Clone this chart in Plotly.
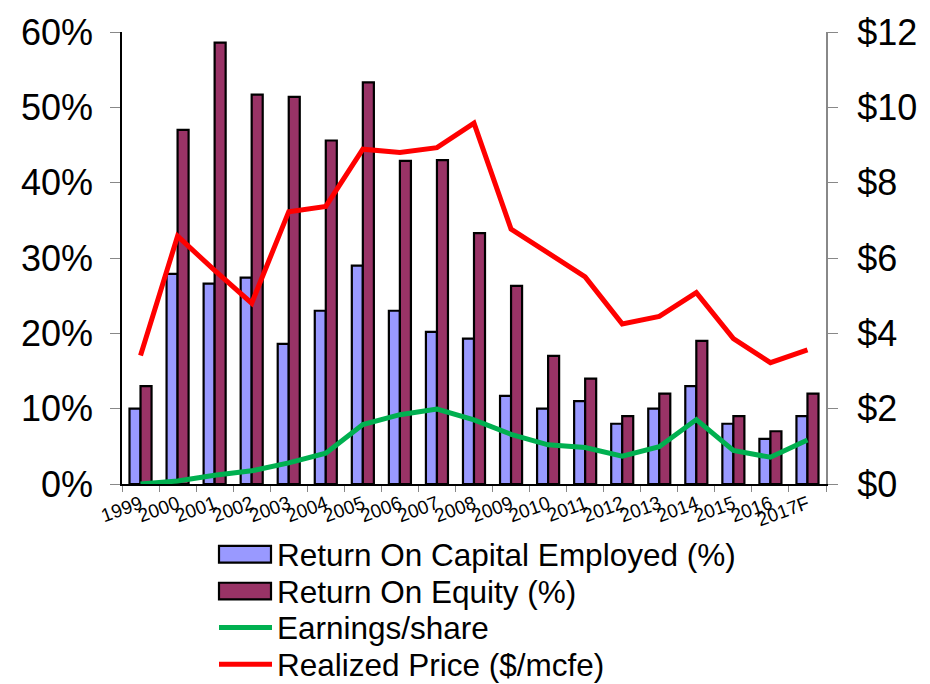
import plotly.graph_objects as go

# Annual figures, 1999 through the 2017 forecast
years = ["1999", "2000", "2001", "2002", "2003", "2004", "2005", "2006", "2007",
         "2008", "2009", "2010", "2011", "2012", "2013", "2014", "2015", "2016", "2017F"]
roce_pct = [10, 27.9, 26.6, 27.4, 18.6, 23, 29, 23, 20.2, 19.3, 11.7, 10, 11, 8, 10, 13, 8, 6, 9]
roe_pct = [13, 47, 58.6, 51.7, 51.4, 45.6, 53.3, 42.9, 43, 33.3, 26.3, 17, 14, 9, 12, 19, 9, 7, 12]
eps_usd = [0.0, 0.08, 0.23, 0.35, 0.56, 0.82, 1.58, 1.84, 1.99, 1.70, 1.32, 1.04, 0.97,
           0.74, 0.99, 1.71, 0.89, 0.71, 1.17]
price_usd = [3.41, 6.58, 5.67, 4.80, 7.23, 7.37, 8.89, 8.80, 8.93, 9.58, 6.77, 6.15, 5.50,
             4.25, 4.45, 5.08, 3.86, 3.22, 3.56]

names = ["Return On Capital Employed (%)", "Return On Equity (%)",
         "Earnings/share", "Realized Price ($/mcfe)"]
colors = ["#9999FF", "#993366", "#00B050", "#FF0000"]

FONT = "Liberation Sans, Arial, sans-serif"
W, H = 930, 684
L, R, T, B = 122, 104, 24, 200

fig = go.Figure()
fig.add_trace(go.Bar(x=years, y=roce_pct, name=names[0], marker_color=colors[0],
                     marker_line=dict(color="black", width=2.2), showlegend=False))
fig.add_trace(go.Bar(x=years, y=roe_pct, name=names[1], marker_color=colors[1],
                     marker_line=dict(color="black", width=2.2), showlegend=False))
fig.add_trace(go.Scatter(x=years, y=eps_usd, name=names[2], mode="lines", yaxis="y2",
                         line=dict(color=colors[2], width=5), showlegend=False))
fig.add_trace(go.Scatter(x=years, y=price_usd, name=names[3], mode="lines", yaxis="y2",
                         line=dict(color=colors[3], width=5), showlegend=False))

# Hand-built legend below the plot: wide swatches for bars, long strokes for lines
pw, ph = W - L - R, H - T - B
def px(x):
    return (x - L) / pw
def py(y):
    return (H - B - y) / ph

shapes = []
annotations = []
rows = [555.5, 593, 630, 667.5]
for i, yc in enumerate(rows):
    if i < 2:
        shapes.append(dict(type="rect", xref="paper", yref="paper",
                           x0=px(219), x1=px(271), y0=py(yc - 8.5), y1=py(yc + 8.5),
                           fillcolor=colors[i], line=dict(color="black", width=2.2)))
    else:
        shapes.append(dict(type="line", xref="paper", yref="paper",
                           x0=px(219), x1=px(272), y0=py(yc), y1=py(yc),
                           line=dict(color=colors[i], width=5)))
    annotations.append(dict(text=names[i], xref="paper", yref="paper",
                            x=px(275), y=py(yc + 1), xanchor="left", yanchor="middle",
                            showarrow=False, font=dict(family=FONT, size=31.5, color="black")))

fig.update_layout(
    width=W, height=H,
    margin=dict(l=L, r=R, t=T, b=B, pad=0),
    paper_bgcolor="white", plot_bgcolor="white",
    barmode="group", bargap=0.405, bargroupgap=0,
    font=dict(family=FONT, color="black"),
    shapes=shapes, annotations=annotations,
    xaxis=dict(type="category", tickangle=-20, tickfont=dict(size=19),
               showline=True, linecolor="black", linewidth=1.5,
               ticks="outside", tickson="boundaries", ticklen=6, tickcolor="#888888",
               showgrid=False, range=[-0.5, len(years) - 0.5]),
    yaxis=dict(range=[0, 60], dtick=10, ticksuffix="%", tickfont=dict(size=36),
               showline=True, linecolor="black", linewidth=1.5,
               ticks="outside", ticklen=10, tickcolor="#888888", ticklabelstandoff=10,
               showgrid=False, zeroline=False),
    yaxis2=dict(range=[0, 12], dtick=2, tickprefix="$", tickfont=dict(size=36),
                overlaying="y", side="right",
                showline=True, linecolor="#888888", linewidth=2,
                ticks="outside", ticklen=10, tickcolor="#888888", ticklabelstandoff=12,
                showgrid=False, zeroline=False),
)

fig.write_html("out.html")
